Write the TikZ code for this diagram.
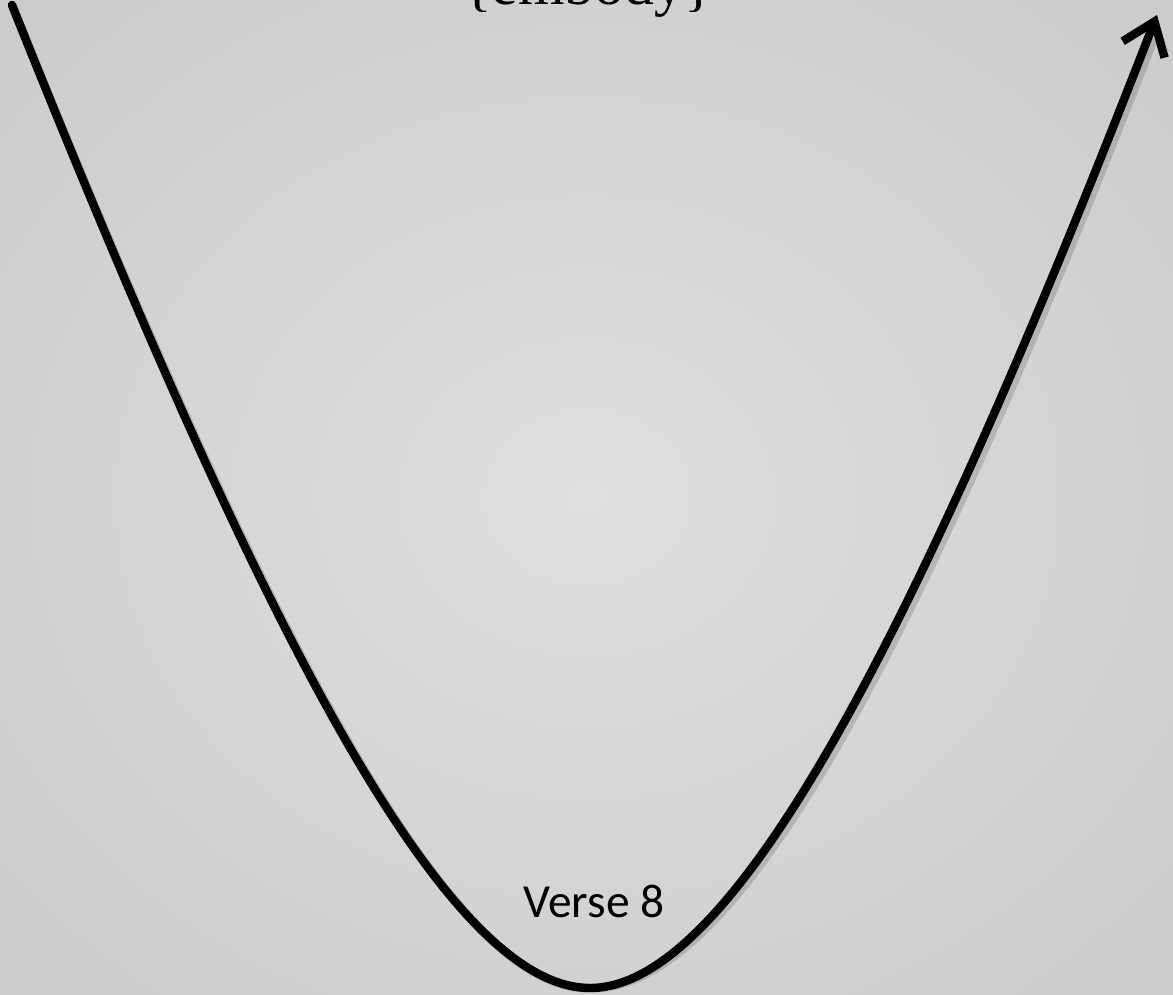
\documentclass[tikz,border=0pt]{standalone}
\usepackage{fontspec}
\setmainfont{Liberation Serif}
\newfontfamily\versefont{Carlito}
\usetikzlibrary{arrows.meta}
\definecolor{bginner}{RGB}{223,223,223}
\definecolor{bgouter}{RGB}{204,204,204}

\begin{document}
\begin{tikzpicture}[
  x=0.02cm, y=-0.02cm,
  crv/.style={line width=4.8pt,line cap=round,line join=round,-{Straight Barb[length=6mm,width=9mm,line width=4.8pt]}},
  shd/.style={line width=5pt,black,opacity=0.15,line cap=round},
  lbl/.style={font=\versefont\fontsize{27pt}{31pt}\selectfont,inner sep=0pt},
  ttl/.style={font=\fontsize{34pt}{38pt}\selectfont,inner sep=0pt,anchor=base}]
\useasboundingbox (0,0) rectangle (1173,994);
\clip (0,0) rectangle (1173,994);
\shade[inner color=bginner,outer color=bgouter] (-200,-170) rectangle (1373,1164);
% title cut by the top edge
\node[ttl] (ttl) at (588,4) {\{embody\}};
% the valley
\coordinate (s) at (12,5);
\coordinate (low) at (590,988);
\coordinate (e) at (1157,15);
\draw[shd,xshift=2.5,yshift=-2.5] (s) .. controls (250,600) and (440,988) .. (low)
  .. controls (740,988) and (925,610) .. (1148,38);
\draw[crv] (s) .. controls (250,600) and (440,988) .. (low)
  .. controls (740,988) and (930,600) .. (e);
\node[lbl] (v8) at (594,901) {Verse 8};
\end{tikzpicture}
\end{document}
